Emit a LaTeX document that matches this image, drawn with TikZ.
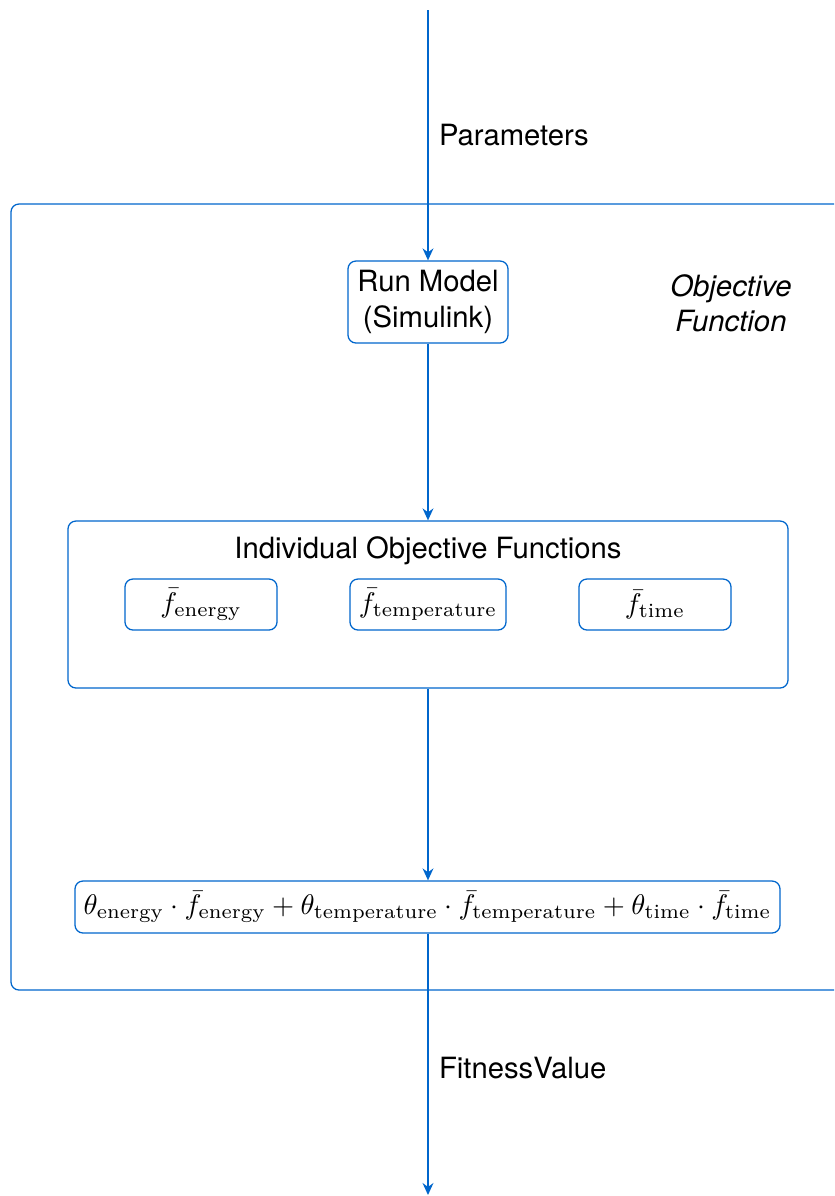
\documentclass[tikz,border=0pt]{standalone}
\usepackage{fontspec}
\newfontfamily\helv{TeX Gyre Heros}
\usetikzlibrary{arrows.meta}
\definecolor{flowblue}{RGB}{0,102,204}
\newcommand{\sanstext}{\helv\fontsize{10.3pt}{12.4pt}\selectfont}
\newcommand{\mathtext}{\fontsize{10.15pt}{12.2pt}\selectfont}
\tikzset{
  box/.style={draw=flowblue, line width=0.45pt, rounded corners=2.8pt, inner sep=0pt, font=\mathtext},
  flow/.style={draw=flowblue, line width=0.7pt, -{Stealth[length=4.2pt,width=3.8pt]}},
  lbl/.style={font=\sanstext, text=black, inner sep=0pt},
}
\begin{document}
\begin{tikzpicture}[x=0.352pt,y=-0.352pt]
  \useasboundingbox (0,0) rectangle (834,1196);
  \clip (0,0) rectangle (834,1196);

  % enclosing objective-function frame (runs past the right edge)
  \draw[box] (11,204) rectangle (860,990);
  \node[lbl, font=\sanstext\itshape, align=center] (objlbl) at (731,303) {Objective\\Function};

  % model run
  \node[box, minimum width=160*0.352pt, minimum height=82*0.352pt, align=center, font=\sanstext]
    (run) at (428,302) {Run Model\\(Simulink)};

  % individual objectives
  \node[box, minimum width=720*0.352pt, minimum height=167*0.352pt] (ind) at (428,604.5) {};
  \node[lbl] (indlbl) at (428,550.5) {Individual Objective Functions};
  \node[box, minimum width=152*0.352pt, minimum height=51*0.352pt] (fe) at (201,604.5) {$\bar{f}_{\mathrm{energy}}$};
  \node[box, minimum width=156*0.352pt, minimum height=51*0.352pt] (ft) at (428,604.5) {$\bar{f}_{\mathrm{temperature}}$};
  \node[box, minimum width=152*0.352pt, minimum height=51*0.352pt] (fti) at (655,604.5) {$\bar{f}_{\mathrm{time}}$};

  % weighted sum
  \node[box, minimum width=705*0.352pt, minimum height=52*0.352pt] (sum) at (427.5,907)
    {$\theta_{\mathrm{energy}}\cdot\bar{f}_{\mathrm{energy}}+\theta_{\mathrm{temperature}}\cdot\bar{f}_{\mathrm{temperature}}+\theta_{\mathrm{time}}\cdot\bar{f}_{\mathrm{time}}$};

  % connectors
  \coordinate (in) at (428,10);
  \coordinate (out) at (428,1195);
  \draw[flow] (in) -- (run.north);
  \draw[flow] (run.south) -- (ind.north);
  \draw[flow] (ind.south) -- (sum.north -| ind.south);
  \draw[flow] (sum.south -| ind.south) -- (out);

  \node[lbl, anchor=west] (par) at (438.5,135) {Parameters};
  \node[lbl, anchor=west] (fit) at (438.5,1068) {FitnessValue};
\end{tikzpicture}
\end{document}
